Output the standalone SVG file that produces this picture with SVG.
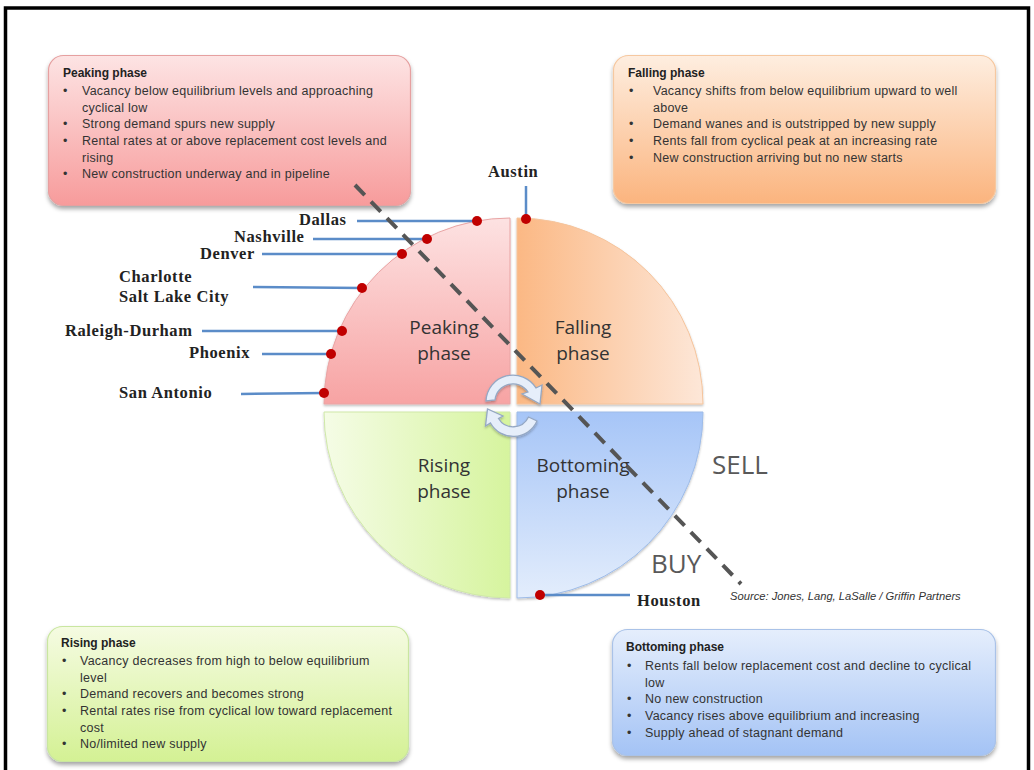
<svg xmlns="http://www.w3.org/2000/svg" width="1034" height="770" viewBox="0 0 1034 770">
<defs>
<filter id="sh" x="-10%" y="-10%" width="120%" height="130%"><feDropShadow dx="0" dy="3" stdDeviation="2" flood-color="#000" flood-opacity="0.35"/></filter>
<filter id="sh2" x="-10%" y="-10%" width="120%" height="130%"><feDropShadow dx="0" dy="1.5" stdDeviation="1.2" flood-color="#000" flood-opacity="0.25"/></filter>
<linearGradient id="gPkBox" x1="0" y1="0" x2="0" y2="1"><stop offset="0" stop-color="#fde4e4"/><stop offset="1" stop-color="#f79b9b"/></linearGradient>
<linearGradient id="gFaBox" x1="0" y1="0" x2="0" y2="1"><stop offset="0" stop-color="#feeee0"/><stop offset="1" stop-color="#fbb47e"/></linearGradient>
<linearGradient id="gRiBox" x1="0" y1="0" x2="0" y2="1"><stop offset="0" stop-color="#f5fbe2"/><stop offset="1" stop-color="#d4f194"/></linearGradient>
<linearGradient id="gBoBox" x1="0" y1="0" x2="0" y2="1"><stop offset="0" stop-color="#e5eefc"/><stop offset="1" stop-color="#a4c3f5"/></linearGradient>
<linearGradient id="gPk" x1="0" y1="0" x2="0" y2="1"><stop offset="0" stop-color="#fde2e2"/><stop offset="1" stop-color="#f7a3a3"/></linearGradient>
<linearGradient id="gFa" x1="0" y1="0" x2="1" y2="0"><stop offset="0" stop-color="#fbb884"/><stop offset="1" stop-color="#fde7d8"/></linearGradient>
<linearGradient id="gRi" x1="0" y1="0" x2="1" y2="0"><stop offset="0" stop-color="#f5fce6"/><stop offset="1" stop-color="#d6f49e"/></linearGradient>
<linearGradient id="gBo" x1="0" y1="0" x2="0" y2="1"><stop offset="0" stop-color="#a6c5f7"/><stop offset="1" stop-color="#e3edfc"/></linearGradient>
</defs>
<style>
.box{stroke-width:1.2;filter:url(#sh)}
.bt{font-family:"Liberation Sans",Arial,sans-serif;font-size:12.5px;letter-spacing:0.25px;fill:#333}
.bh{font-family:"Liberation Sans",Arial,sans-serif;font-size:12px;font-weight:bold;fill:#222}
.ql{font-family:"Open Sans","Liberation Sans",sans-serif;font-size:19px;fill:#333;text-anchor:middle}
.city{font-family:"Liberation Serif","Times New Roman",serif;font-size:16.5px;font-weight:bold;fill:#222;letter-spacing:0.6px}
.lead{stroke:#5b8cc8;stroke-width:2.5;fill:none}
.dot{fill:#c00000}
.big{font-family:"Open Sans","Liberation Sans",sans-serif;font-size:26px;fill:#595959}
.src{font-family:"Liberation Sans",Arial,sans-serif;font-size:11.2px;font-style:italic;fill:#333}
.arrow{fill:#e6eefa;stroke:#95a8c4;stroke-width:1.3;filter:url(#sh2)}
</style>
<rect x="0" y="0" width="1034" height="770" fill="#fff"/>
<rect x="5.5" y="8" width="1023" height="800" fill="#fff" stroke="#000" stroke-width="3.5"/>

<g id="quadrant-peaking">
<path d="M 510 404 L 324 404 A 186 186 0 0 1 510 218 Z" fill="url(#gPk)" stroke="#e9a4a4" stroke-width="1" filter="url(#sh2)"/>
<text class="ql" x="444" y="334">Peaking</text><text class="ql" x="444" y="360">phase</text>
</g>
<g id="quadrant-falling">
<path d="M 517 404 L 517 218 A 186 186 0 0 1 703 404 Z" fill="url(#gFa)" stroke="#f5c49c" stroke-width="1" filter="url(#sh2)"/>
<text class="ql" x="583" y="334">Falling</text><text class="ql" x="583" y="360">phase</text>
</g>
<g id="quadrant-rising">
<path d="M 510 412 L 510 598 A 186 186 0 0 1 324 412 Z" fill="url(#gRi)" stroke="#cfe8a8" stroke-width="1" filter="url(#sh2)"/>
<text class="ql" x="444" y="472">Rising</text><text class="ql" x="444" y="498">phase</text>
</g>
<g id="quadrant-bottoming">
<path d="M 517 412 L 703 412 A 186 186 0 0 1 517 598 Z" fill="url(#gBo)" stroke="#9dbbe8" stroke-width="1" filter="url(#sh2)"/>
<text class="ql" x="583" y="472">Bottoming</text><text class="ql" x="583" y="498">phase</text>
</g>

<g id="cycle-arrows">
<path class="arrow" d="M 486 401 A 27 27 0 0 1 536 388 L 542 385 L 540 404 L 522 394 L 528 392 A 18 18 0 0 0 495 400 Z"/>
<path class="arrow" d="M 537 421 A 26 26 0 0 1 490.5 423 L 485.5 426 L 487.5 409 L 503 416 L 498.5 418.5 A 17 17 0 0 0 528.5 417 Z"/>
</g>

<g id="box-peaking">
<rect class="box" x="48.5" y="55.5" width="362" height="150" rx="15" fill="url(#gPkBox)" stroke="#e6a0a0"/>
<text class="bh" x="63" y="77">Peaking phase</text>
<text class="bt" x="63" y="95">•</text><text class="bt" x="82" y="95">Vacancy below equilibrium levels and approaching</text>
<text class="bt" x="82" y="111.5">cyclical low</text>
<text class="bt" x="63" y="128">•</text><text class="bt" x="82" y="128">Strong demand spurs new supply</text>
<text class="bt" x="63" y="145">•</text><text class="bt" x="82" y="145">Rental rates at or above replacement cost levels and</text>
<text class="bt" x="82" y="161.5">rising</text>
<text class="bt" x="63" y="178">•</text><text class="bt" x="82" y="178">New construction underway and in pipeline</text>
</g>

<g id="box-falling">
<rect class="box" x="613.5" y="55.5" width="382" height="148" rx="15" fill="url(#gFaBox)" stroke="#f6c8a0"/>
<text class="bh" x="628" y="77">Falling phase</text>
<text class="bt" x="629" y="95">•</text><text class="bt" x="653" y="95">Vacancy shifts from below equilibrium upward to well</text>
<text class="bt" x="653" y="112">above</text>
<text class="bt" x="629" y="128">•</text><text class="bt" x="653" y="128">Demand wanes and is outstripped by new supply</text>
<text class="bt" x="629" y="145">•</text><text class="bt" x="653" y="145">Rents fall from cyclical peak at an increasing rate</text>
<text class="bt" x="629" y="162">•</text><text class="bt" x="653" y="162">New construction arriving but no new starts</text>
</g>

<g id="box-rising">
<rect class="box" x="47.5" y="626.5" width="361" height="135" rx="15" fill="url(#gRiBox)" stroke="#c9e6a0"/>
<text class="bh" x="61" y="647">Rising phase</text>
<text class="bt" x="62" y="665">•</text><text class="bt" x="80" y="665">Vacancy decreases from high to below equilibrium</text>
<text class="bt" x="80" y="682">level</text>
<text class="bt" x="62" y="698">•</text><text class="bt" x="80" y="698">Demand recovers and becomes strong</text>
<text class="bt" x="62" y="715">•</text><text class="bt" x="80" y="715">Rental rates rise from cyclical low toward replacement</text>
<text class="bt" x="80" y="732">cost</text>
<text class="bt" x="62" y="748">•</text><text class="bt" x="80" y="748">No/limited new supply</text>
</g>

<g id="box-bottoming">
<rect class="box" x="612.5" y="629.5" width="383" height="126" rx="15" fill="url(#gBoBox)" stroke="#a9c2e8"/>
<text class="bh" x="626" y="651">Bottoming phase</text>
<text class="bt" x="627" y="670">•</text><text class="bt" x="645" y="670">Rents fall below replacement cost and decline to cyclical</text>
<text class="bt" x="645" y="687">low</text>
<text class="bt" x="627" y="703">•</text><text class="bt" x="645" y="703">No new construction</text>
<text class="bt" x="627" y="720">•</text><text class="bt" x="645" y="720">Vacancy rises above equilibrium and increasing</text>
<text class="bt" x="627" y="737">•</text><text class="bt" x="645" y="737">Supply ahead of stagnant demand</text>
</g>

<g id="connectors">
<line class="lead" x1="526" y1="186" x2="526" y2="219"/>
<line class="lead" x1="357" y1="221" x2="477" y2="221"/>
<line class="lead" x1="313" y1="239" x2="427" y2="239"/>
<line class="lead" x1="262" y1="254" x2="402" y2="254"/>
<line class="lead" x1="253" y1="287" x2="362" y2="288"/>
<line class="lead" x1="202" y1="331" x2="342" y2="331"/>
<line class="lead" x1="262" y1="354" x2="331" y2="354"/>
<line class="lead" x1="241" y1="394" x2="324" y2="393"/>
<line class="lead" x1="540" y1="595" x2="630" y2="595"/>
<line x1="355" y1="185" x2="741" y2="584" stroke="#555" stroke-width="4" stroke-dasharray="14 9"/>
</g>

<g id="city-dots">
<circle class="dot" cx="526" cy="219" r="5"/>
<circle class="dot" cx="477" cy="221" r="5"/>
<circle class="dot" cx="427" cy="239" r="5"/>
<circle class="dot" cx="402" cy="254" r="5"/>
<circle class="dot" cx="362" cy="288" r="5"/>
<circle class="dot" cx="342" cy="331" r="5"/>
<circle class="dot" cx="331" cy="354" r="5"/>
<circle class="dot" cx="324" cy="393" r="5"/>
<circle class="dot" cx="540" cy="595" r="5"/>
</g>

<g id="city-labels">
<text class="city" x="488" y="177">Austin</text>
<text class="city" x="299" y="225">Dallas</text>
<text class="city" x="234" y="242">Nashville</text>
<text class="city" x="200" y="258.5">Denver</text>
<text class="city" x="119" y="282">Charlotte</text>
<text class="city" x="119" y="302">Salt Lake City</text>
<text class="city" x="65" y="336">Raleigh-Durham</text>
<text class="city" x="189" y="358">Phoenix</text>
<text class="city" x="119" y="398">San Antonio</text>
<text class="city" x="637" y="606">Houston</text>
</g>

<g id="annotations">
<text class="big" x="712" y="474">SELL</text>
<text class="big" x="651" y="573">BUY</text>
<text class="src" x="730" y="600">Source: Jones, Lang, LaSalle / Griffin Partners</text>
</g>
</svg>
